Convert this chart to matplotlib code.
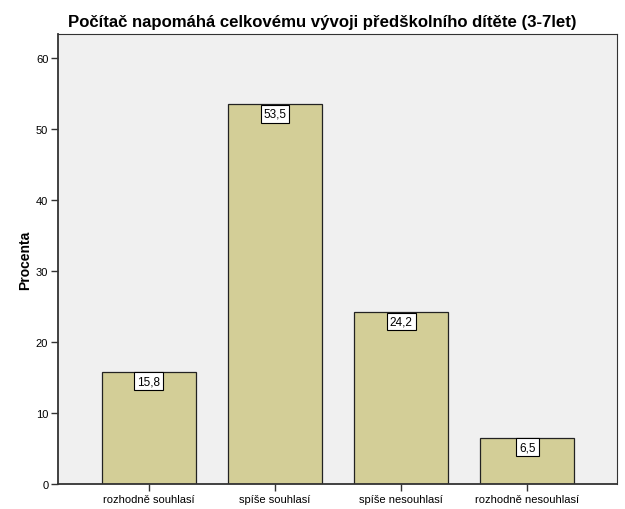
import numpy as np
import matplotlib
matplotlib.use('Agg')
import matplotlib.pyplot as plt

plt.rcParams['font.family'] = ['Liberation Sans', 'DejaVu Sans']

# Data
categories = ['rozhodně souhlasí', 'spíše souhlasí', 'spíše nesouhlasí', 'rozhodně nesouhlasí']
percent = [15.8, 53.5, 24.2, 6.5]
value_labels = ['15,8', '53,5', '24,2', '6,5']
yticks = [0, 10, 20, 30, 40, 50, 60]

fig = plt.figure(figsize=(6.25, 5.10), dpi=100)
ax = fig.add_axes([0.0928, 0.049, 0.8944, 0.882])
ax.set_facecolor('#F0F0F0')

x = np.arange(len(categories))
ax.bar(x, percent, width=0.746, color='#D3CE97', edgecolor='#222222', linewidth=0.9, zorder=2)

for xi, v, lab in zip(x, percent, value_labels):
    ax.annotate(lab, (xi, v), xytext=(0, -2.3), textcoords='offset points',
                ha='center', va='top', fontsize=8.5, zorder=3,
                bbox=dict(boxstyle='square,pad=0.25', fc='white', ec='black', lw=0.8))

ax.set_xlim(-0.72, 3.71)
ax.set_ylim(0, 63.4)
ax.set_xticks(x)
ax.set_xticklabels(categories, fontsize=8)
ax.set_yticks(yticks)
ax.set_yticklabels([str(t) for t in yticks], fontsize=8)
ax.tick_params(axis='both', direction='out', length=5, width=1, color='#333333', pad=2)

for side in ['left', 'bottom']:
    ax.spines[side].set_color('#333333')
    ax.spines[side].set_linewidth(1.3)
for side in ['top', 'right']:
    ax.spines[side].set_color('#333333')
    ax.spines[side].set_linewidth(0.8)

ax.set_ylabel('Procenta', fontsize=10, fontweight='bold', labelpad=3)
fig.text(68 / 625, 1 - 22 / 510, 'Počítač napomáhá celkovému vývoji předškolního dítěte (3-7let)',
         fontsize=12.1, fontweight='bold', ha='left', va='center')

plt.savefig('out.png', dpi=100)
